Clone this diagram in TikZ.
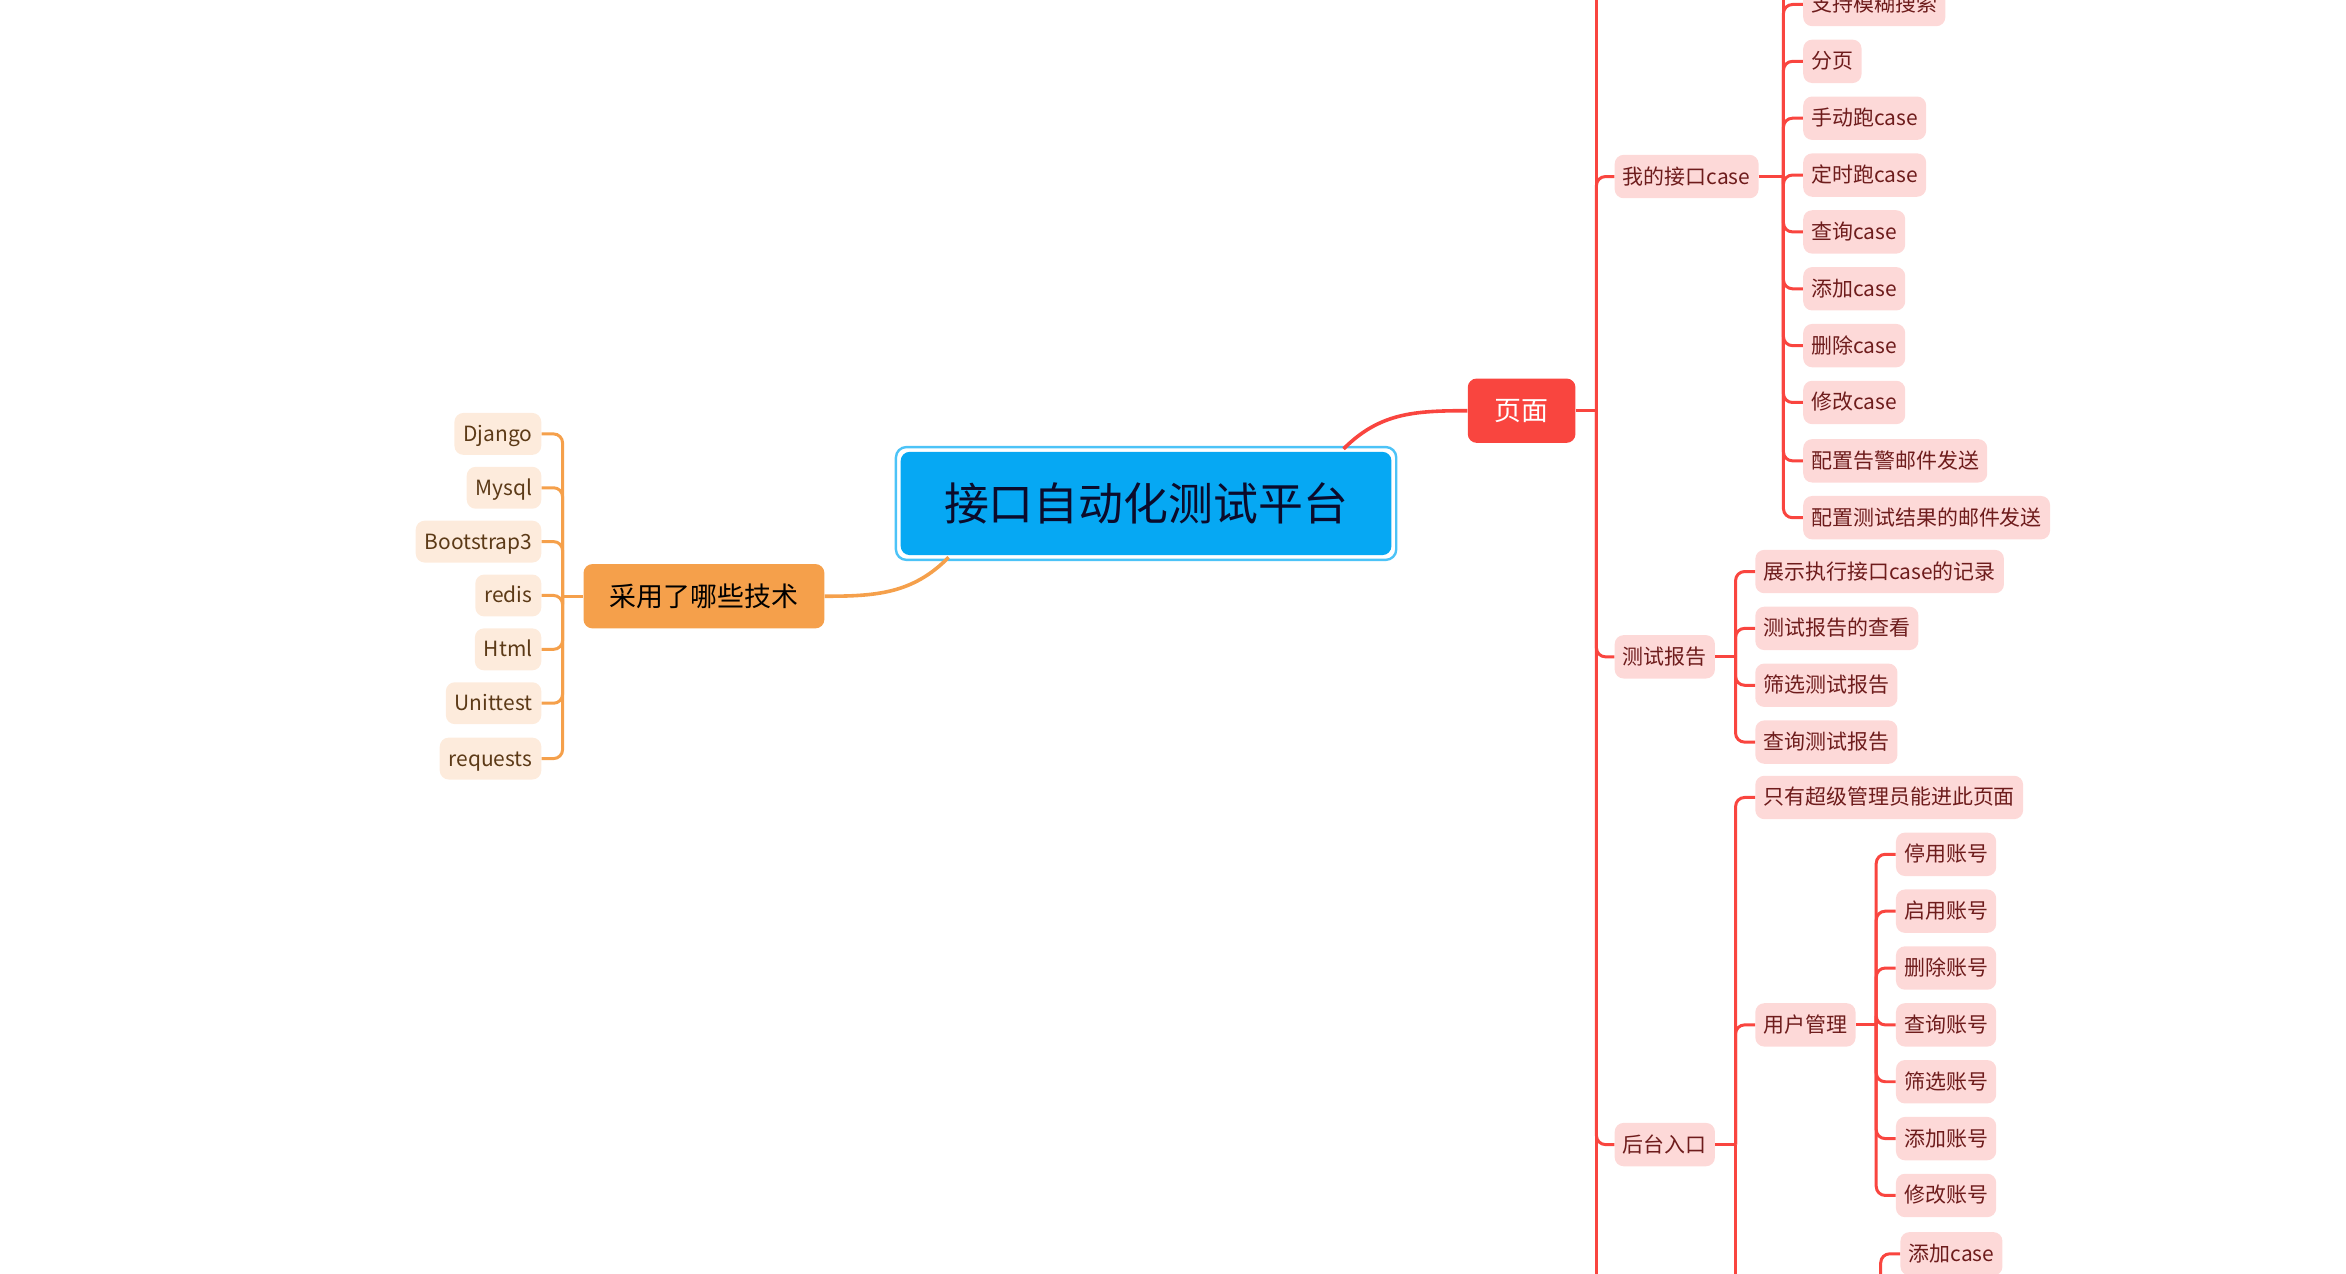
\documentclass[tikz,border=0pt]{standalone}
\usepackage{fontspec}
\setmainfont{Noto Sans CJK SC}
\usetikzlibrary{calc}
\definecolor{redline}{HTML}{F9453F}
\definecolor{pinkfill}{HTML}{FDD9D8}
\definecolor{pinktext}{HTML}{6E1C1C}
\definecolor{orangeline}{HTML}{F5A04B}
\definecolor{peachfill}{HTML}{FDEBDC}
\definecolor{peachtext}{HTML}{5C3A17}
\definecolor{rootfill}{HTML}{06A8F3}
\definecolor{rootborder}{HTML}{4CC3F7}
\definecolor{roottext}{HTML}{0B0B2B}
\begin{document}
\begin{tikzpicture}[x=1pt,y=-1pt,
  rootbox/.style={fill=rootfill, rounded corners=6pt, minimum width=328pt, minimum height=69pt,
    text=roottext, font=\fontsize{30}{34}\selectfont, text height=26.4pt, text depth=3.6pt, inner sep=0pt},
  pagebox/.style={fill=redline, rounded corners=6pt, minimum width=72pt, minimum height=43pt,
    text=white, font=\fontsize{18}{21}\selectfont, text height=15.8pt, text depth=2.2pt, inner sep=0pt},
  techbox/.style={fill=orangeline, rounded corners=6pt, minimum width=161pt, minimum height=43pt,
    text=black, font=\fontsize{18}{21}\selectfont, text height=15.8pt, text depth=2.2pt, inner sep=0pt},
  pinkleaf/.style={fill=pinkfill, rounded corners=6pt, minimum height=29pt, inner xsep=5.5pt, inner ysep=0pt,
    text=pinktext, font=\fontsize{14}{16}\selectfont, text height=12pt, text depth=2pt, anchor=west},
  peachleaf/.style={fill=peachfill, rounded corners=6pt, minimum height=28pt, inner xsep=6pt, inner ysep=0pt,
    text=peachtext, font=\fontsize{14}{16}\selectfont, text height=12pt, text depth=2pt, anchor=east},
  rline/.style={draw=redline, line width=2pt, rounded corners=6pt},
  oline/.style={draw=orangeline, line width=2pt, rounded corners=6pt},
]
\useasboundingbox (0,0) rectangle (1568,851.5);
\clip (0,0) rectangle (1568,851.5);

% ---------- nodes ----------
\node[rootbox] (root) at (766,336.5) {接口自动化测试平台};
\node[pagebox] (pg) at (1017,274.5) {页面};
\node[techbox] (tech) at (470.5,398.5) {采用了哪些技术};

% level 2 (right)
\node[pinkleaf] (mycase) at (1079,118) {我的接口case};
\node[pinkleaf] (report) at (1079,439) {测试报告};
\node[pinkleaf] (admin) at (1079,765) {后台入口};

% children of 我的接口case
\node[pinkleaf] (c1) at (1205,3) {支持模糊搜索};
\node[pinkleaf] (c2) at (1205,41) {分页};
\node[pinkleaf] (c3) at (1205,79) {手动跑case};
\node[pinkleaf] (c4) at (1205,117) {定时跑case};
\node[pinkleaf] (c5) at (1205,155) {查询case};
\node[pinkleaf] (c6) at (1205,193) {添加case};
\node[pinkleaf] (c7) at (1205,231) {删除case};
\node[pinkleaf] (c8) at (1205,269) {修改case};
\node[pinkleaf] (c9) at (1205,308) {配置告警邮件发送};
\node[pinkleaf] (c10) at (1205,346) {配置测试结果的邮件发送};

% children of 测试报告
\node[pinkleaf] (r1) at (1173,382) {展示执行接口case的记录};
\node[pinkleaf] (r2) at (1173,420) {测试报告的查看};
\node[pinkleaf] (r3) at (1173,458) {筛选测试报告};
\node[pinkleaf] (r4) at (1173,496) {查询测试报告};

% children of 后台入口
\node[pinkleaf] (a1) at (1173,533) {只有超级管理员能进此页面};
\node[pinkleaf] (a2) at (1173,685) {用户管理};

% children of 用户管理
\node[pinkleaf] (u1) at (1267,571) {停用账号};
\node[pinkleaf] (u2) at (1267,609) {启用账号};
\node[pinkleaf] (u3) at (1267,647) {删除账号};
\node[pinkleaf] (u4) at (1267,685) {查询账号};
\node[pinkleaf] (u5) at (1267,723) {筛选账号};
\node[pinkleaf] (u6) at (1267,761) {添加账号};
\node[pinkleaf] (u7) at (1267,799) {修改账号};

\node[pinkleaf] (ac) at (1270,838) {添加case};

% left children
\node[peachleaf] (t1) at (362,290) {Django};
\node[peachleaf] (t2) at (362,326) {Mysql};
\node[peachleaf] (t3) at (362,362) {Bootstrap3};
\node[peachleaf] (t4) at (362,398) {redis};
\node[peachleaf] (t5) at (362,434) {Html};
\node[peachleaf] (t6) at (362,470) {Unittest};
\node[peachleaf] (t7) at (362,507) {requests};

% root outer frame
\draw[rootborder, line width=1.6pt, rounded corners=7pt]
  ($(root.north west)+(-3,-3)$) rectangle ($(root.south east)+(3,3)$);

% ---------- junction coordinates ----------
\coordinate (jp) at (1067,274.5);
\coordinate (jpt) at (1067,-10);
\coordinate (jpb) at (1067,860);
\coordinate (jm) at (1192,118);
\coordinate (jmt) at (1192,-10);
\coordinate (jr) at (1160,439);
\coordinate (ja) at (1160,765);
\coordinate (jab) at (1160,860);
\coordinate (ju) at (1254,685);
\coordinate (jx) at (1257,870);
\coordinate (jt) at (376,398.5);
\coordinate (rs) at (898,300);
\coordinate (rt) at (634,372.5);

% ---------- connectors ----------
% root to main branches
\draw[redline, line width=2.4pt] (rs) .. controls (922,276) and (945,274.5) .. (pg.west);
\draw[orangeline, line width=2.4pt] (rt) .. controls (610,397) and (585,398.5) .. (tech.east);

% 页面 trunk
\draw[rline] (pg.east) -- (jp);
\draw[rline] (jpt) -- (jpb);
\foreach \n in {mycase,report,admin} \draw[rline] (jp) |- (\n.west);

% 我的接口case
\draw[rline] (mycase.east) -- (jm);
\draw[rline] (jm) -- (jmt);
\foreach \n in {c1,c2,c3,c4,c5,c6,c7,c8,c9,c10} \draw[rline] (jm) |- (\n.west);

% 测试报告
\draw[rline] (report.east) -- (jr);
\foreach \n in {r1,r2,r3,r4} \draw[rline] (jr) |- (\n.west);

% 后台入口
\draw[rline] (admin.east) -- (ja);
\draw[rline] (ja) -- (jab);
\foreach \n in {a1,a2} \draw[rline] (ja) |- (\n.west);

% 用户管理
\draw[rline] (a2.east) -- (ju);
\foreach \n in {u1,u2,u3,u4,u5,u6,u7} \draw[rline] (ju) |- (\n.west);

% 添加case (parent below the frame)
\draw[rline] (jx) |- (ac.west);

% 采用了哪些技术
\draw[oline] (tech.west) -- (jt);
\foreach \n in {t1,t2,t3,t4,t5,t6,t7} \draw[oline] (jt) |- (\n.east);

\end{tikzpicture}
\end{document}
